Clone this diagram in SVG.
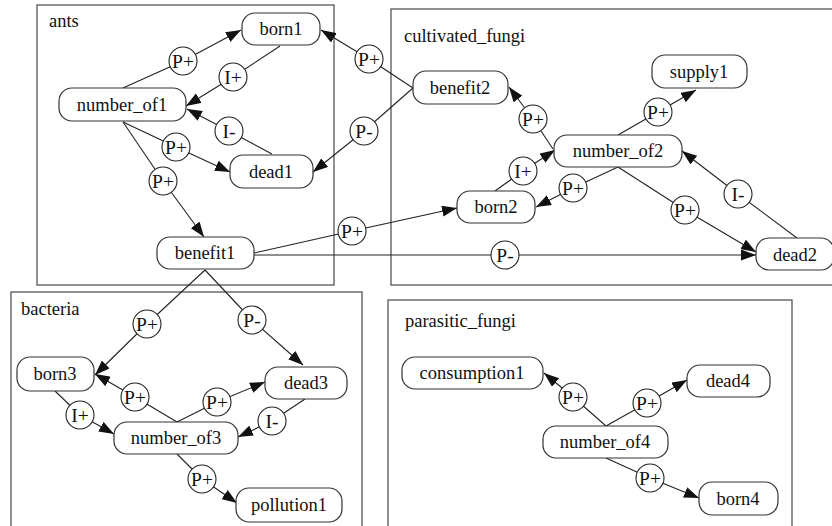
<svg xmlns="http://www.w3.org/2000/svg" width="832" height="526" viewBox="0 0 832 526">
  <style>
    text { font-family: "Liberation Serif", "Times New Roman", serif; font-size: 18.5px; fill: #111; }
    .cluster { fill: none; stroke: #555; stroke-width: 1.3; }
    .node rect { fill: #fff; stroke: #333; stroke-width: 1.2; }
    .node text { text-anchor: middle; }
    .lbl circle { fill: #fff; stroke: #222; stroke-width: 1.1; }
    .lbl text { text-anchor: middle; font-size: 19.5px; }
    .edge { fill: none; stroke: #222; stroke-width: 1.1; }
    .arr { marker-end: url(#head); }
  </style>
  <defs>
    <marker id="head" markerUnits="userSpaceOnUse" markerWidth="15" markerHeight="11" refX="15" refY="5.5" orient="auto">
      <path d="M0,0 L15,5.5 L0,11 z" fill="#111"/>
    </marker>
  </defs>
  <rect width="832" height="526" fill="#fff"/>

  <!-- clusters -->
  <g id="cluster-ants">
    <rect class="cluster" x="37" y="5" width="297" height="280"/>
    <text x="49" y="27">ants</text>
  </g>
  <g id="cluster-cultivated_fungi">
    <rect class="cluster" x="391" y="9" width="445" height="276"/>
    <text x="404" y="42">cultivated_fungi</text>
  </g>
  <g id="cluster-bacteria">
    <rect class="cluster" x="11" y="292" width="351" height="240"/>
    <text x="21" y="315">bacteria</text>
  </g>
  <g id="cluster-parasitic_fungi">
    <rect class="cluster" x="388" y="300" width="404" height="230"/>
    <text x="405" y="327">parasitic_fungi</text>
  </g>

  <!-- connectors -->
  <g id="edges">
    <!-- ants -->
    <path class="edge" d="M123,88 L183,61"/><path class="edge arr" d="M183,61 L241,30"/>
    <path class="edge" d="M280,46 L233,77"/><path class="edge arr" d="M233,77 L186,106"/>
    <path class="edge" d="M272,154 L229,131"/><path class="edge arr" d="M229,131 L187,109"/>
    <path class="edge" d="M123,122 L176,147"/><path class="edge arr" d="M176,147 L230,172"/>
    <path class="edge" d="M123,122 L163,181"/><path class="edge arr" d="M163,181 L204,237"/>
    <!-- between ants and cultivated_fungi -->
    <path class="edge" d="M413,88 L369,59"/><path class="edge arr" d="M369,59 L321,30"/>
    <path class="edge" d="M413,88 L364,131"/><path class="edge arr" d="M364,131 L313,172"/>
    <path class="edge" d="M254,253 L352,231"/><path class="edge arr" d="M352,231 L457,208"/>
    <path class="edge" d="M254,255 L505,255"/><path class="edge arr" d="M505,255 L756,255"/>
    <!-- cultivated_fungi -->
    <path class="edge" d="M553,149 L533,119"/><path class="edge arr" d="M533,119 L509,87"/>
    <path class="edge" d="M618,135 L658,112"/><path class="edge arr" d="M658,112 L696,90"/>
    <path class="edge" d="M495,191 L523,171"/><path class="edge arr" d="M523,171 L555,150"/>
    <path class="edge" d="M618,167 L573,188"/><path class="edge arr" d="M573,188 L536,207"/>
    <path class="edge" d="M618,167 L685,210"/><path class="edge arr" d="M685,210 L756,252"/>
    <path class="edge" d="M797,238 L738,194"/><path class="edge arr" d="M738,194 L682,151"/>
    <!-- from benefit1 into bacteria -->
    <path class="edge" d="M205,270 L147,324"/><path class="edge arr" d="M147,324 L95,375"/>
    <path class="edge" d="M205,270 L252,320"/><path class="edge arr" d="M252,320 L303,365"/>
    <!-- bacteria -->
    <path class="edge" d="M177,422 L135,397"/><path class="edge arr" d="M135,397 L95,374"/>
    <path class="edge" d="M177,422 L217,402"/><path class="edge arr" d="M217,402 L265,382"/>
    <path class="edge" d="M55,391 L80,415"/><path class="edge arr" d="M80,415 L114,434"/>
    <path class="edge" d="M305,399 L272,421"/><path class="edge arr" d="M272,421 L238,437"/>
    <path class="edge" d="M177,454 L202,479"/><path class="edge arr" d="M202,479 L237,503"/>
    <!-- parasitic_fungi -->
    <path class="edge" d="M606,426 L573,397"/><path class="edge arr" d="M573,397 L544,373"/>
    <path class="edge" d="M606,426 L647,403"/><path class="edge arr" d="M647,403 L687,380"/>
    <path class="edge" d="M606,458 L650,478"/><path class="edge arr" d="M650,478 L699,498"/>
  </g>

  <!-- connector labels -->
  <g id="edge-labels">
    <g class="lbl"><circle cx="183" cy="61" r="14"/><text x="183" y="68">P+</text></g>
    <g class="lbl"><circle cx="233" cy="77" r="14"/><text x="233" y="84">I+</text></g>
    <g class="lbl"><circle cx="229" cy="131" r="14"/><text x="229" y="138">I-</text></g>
    <g class="lbl"><circle cx="176" cy="147" r="14"/><text x="176" y="154">P+</text></g>
    <g class="lbl"><circle cx="163" cy="181" r="14"/><text x="163" y="188">P+</text></g>
    <g class="lbl"><circle cx="369" cy="59" r="14"/><text x="369" y="66">P+</text></g>
    <g class="lbl"><circle cx="364" cy="131" r="14"/><text x="364" y="138">P-</text></g>
    <g class="lbl"><circle cx="352" cy="231" r="14"/><text x="352" y="238">P+</text></g>
    <g class="lbl"><circle cx="505" cy="255" r="14"/><text x="505" y="262">P-</text></g>
    <g class="lbl"><circle cx="533" cy="119" r="14"/><text x="533" y="126">P+</text></g>
    <g class="lbl"><circle cx="658" cy="112" r="14"/><text x="658" y="119">P+</text></g>
    <g class="lbl"><circle cx="523" cy="171" r="14"/><text x="523" y="178">I+</text></g>
    <g class="lbl"><circle cx="573" cy="188" r="14"/><text x="573" y="195">P+</text></g>
    <g class="lbl"><circle cx="685" cy="210" r="14"/><text x="685" y="217">P+</text></g>
    <g class="lbl"><circle cx="738" cy="194" r="14"/><text x="738" y="201">I-</text></g>
    <g class="lbl"><circle cx="147" cy="324" r="14"/><text x="147" y="331">P+</text></g>
    <g class="lbl"><circle cx="252" cy="320" r="14"/><text x="252" y="327">P-</text></g>
    <g class="lbl"><circle cx="135" cy="397" r="14"/><text x="135" y="404">P+</text></g>
    <g class="lbl"><circle cx="217" cy="402" r="14"/><text x="217" y="409">P+</text></g>
    <g class="lbl"><circle cx="80" cy="415" r="14"/><text x="80" y="422">I+</text></g>
    <g class="lbl"><circle cx="272" cy="421" r="14"/><text x="272" y="428">I-</text></g>
    <g class="lbl"><circle cx="202" cy="479" r="14"/><text x="202" y="486">P+</text></g>
    <g class="lbl"><circle cx="573" cy="397" r="14"/><text x="573" y="404">P+</text></g>
    <g class="lbl"><circle cx="647" cy="403" r="14"/><text x="647" y="410">P+</text></g>
    <g class="lbl"><circle cx="650" cy="478" r="14"/><text x="650" y="485">P+</text></g>
  </g>

  <!-- nodes -->
  <g id="born1" class="node"><rect x="242" y="13" width="78" height="32" rx="13"/><text x="281" y="35">born1</text></g>
  <g id="number_of1" class="node"><rect x="59" y="88" width="127" height="33" rx="13"/><text x="122" y="111">number_of1</text></g>
  <g id="dead1" class="node"><rect x="230" y="155" width="83" height="33" rx="13"/><text x="271" y="178">dead1</text></g>
  <g id="benefit1" class="node"><rect x="157" y="237" width="97" height="32" rx="13"/><text x="205" y="259">benefit1</text></g>
  <g id="benefit2" class="node"><rect x="413" y="71" width="95" height="33" rx="13"/><text x="460" y="94">benefit2</text></g>
  <g id="supply1" class="node"><rect x="652" y="55" width="95" height="33" rx="13"/><text x="699" y="78">supply1</text></g>
  <g id="number_of2" class="node"><rect x="554" y="135" width="128" height="32" rx="13"/><text x="618" y="157">number_of2</text></g>
  <g id="born2" class="node"><rect x="457" y="191" width="78" height="32" rx="13"/><text x="496" y="213">born2</text></g>
  <g id="dead2" class="node"><rect x="756" y="238" width="78" height="32" rx="13"/><text x="795" y="261">dead2</text></g>
  <g id="born3" class="node"><rect x="17" y="357" width="77" height="34" rx="13"/><text x="55" y="380">born3</text></g>
  <g id="dead3" class="node"><rect x="265" y="367" width="82" height="32" rx="13"/><text x="306" y="389">dead3</text></g>
  <g id="number_of3" class="node"><rect x="114" y="422" width="124" height="32" rx="13"/><text x="176" y="444">number_of3</text></g>
  <g id="pollution1" class="node"><rect x="236" y="488" width="106" height="34" rx="13"/><text x="289" y="511">pollution1</text></g>
  <g id="consumption1" class="node"><rect x="402" y="357" width="141" height="32" rx="13"/><text x="472" y="379">consumption1</text></g>
  <g id="dead4" class="node"><rect x="687" y="365" width="83" height="32" rx="13"/><text x="728" y="387">dead4</text></g>
  <g id="number_of4" class="node"><rect x="543" y="426" width="125" height="32" rx="13"/><text x="605" y="448">number_of4</text></g>
  <g id="born4" class="node"><rect x="699" y="482" width="79" height="33" rx="13"/><text x="738" y="505">born4</text></g>
</svg>
